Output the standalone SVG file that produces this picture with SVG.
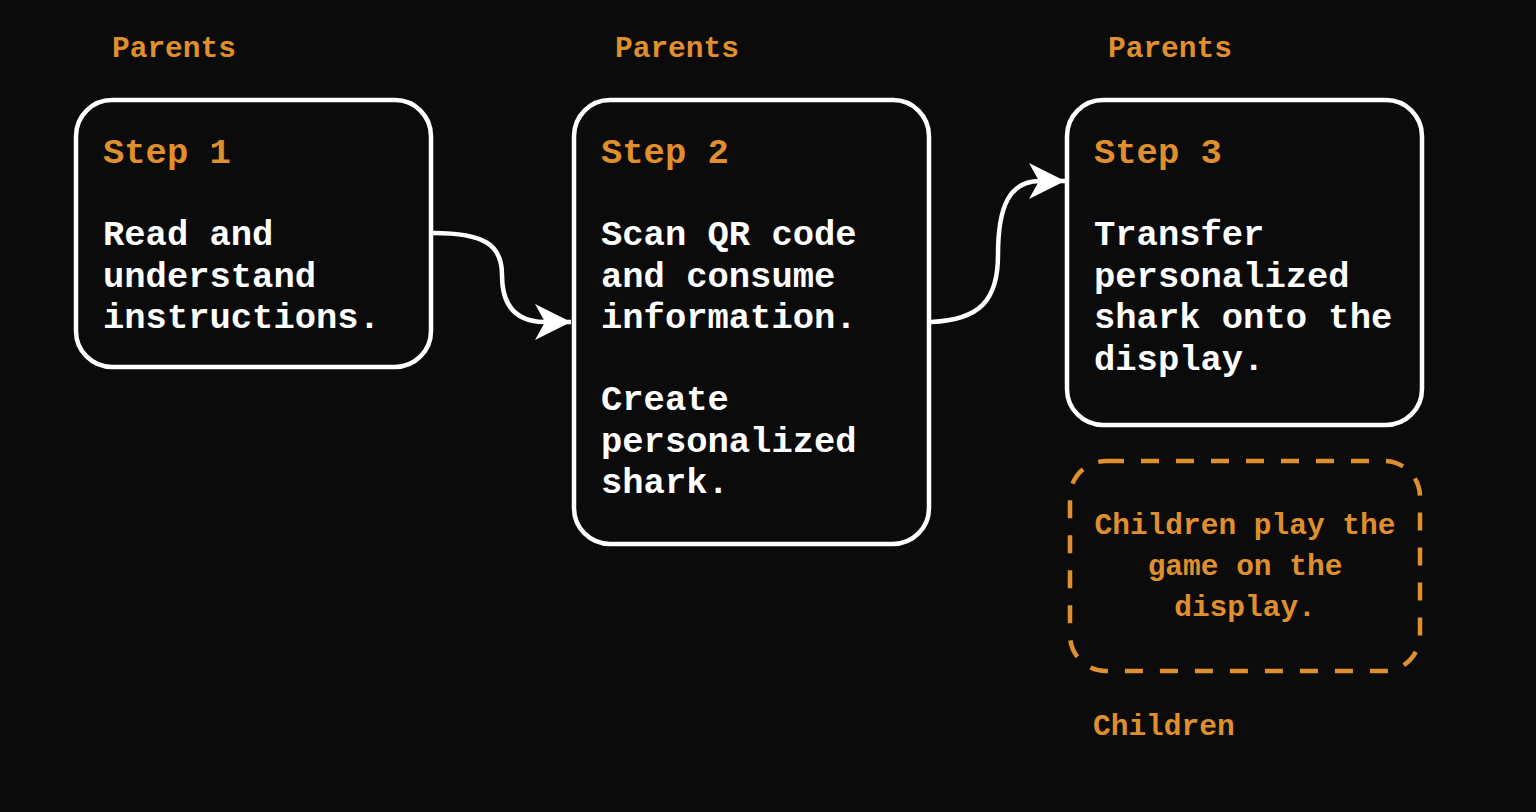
<svg xmlns="http://www.w3.org/2000/svg" width="1536" height="812" viewBox="0 0 1536 812">
<style>
.bg{fill:#0b0b0b}
.box{fill:#0b0b0b;stroke:#ffffff;stroke-width:4.5}
.dbox{fill:none;stroke:#e08f2e;stroke-width:4.5;stroke-dasharray:18 17}
.t{font-family:"Liberation Mono","DejaVu Sans Mono",monospace;font-weight:bold;font-size:35.5px;fill:#ffffff}
.h{font-family:"Liberation Mono","DejaVu Sans Mono",monospace;font-weight:bold;font-size:35.5px;fill:#e08f2e}
.lbl{font-family:"Liberation Mono","DejaVu Sans Mono",monospace;font-weight:bold;font-size:29.5px;fill:#e08f2e}
.conn{fill:none;stroke:#ffffff;stroke-width:4.5}
</style>
<defs>
<marker id="arr" markerUnits="userSpaceOnUse" markerWidth="40" markerHeight="40" viewBox="0 0 40 40" refX="37" refY="20" orient="auto">
<path d="M1,2 L37,20 L1,38 L11,20 Z" fill="#ffffff"/>
</marker>
</defs>
<rect class="bg" x="0" y="0" width="1536" height="812"/>
<g id="label-parents-1"><text class="lbl" x="112" y="57">Parents</text></g>
<g id="label-parents-2"><text class="lbl" x="615" y="57">Parents</text></g>
<g id="label-parents-3"><text class="lbl" x="1108" y="57">Parents</text></g>
<g id="label-children"><text class="lbl" x="1093" y="735">Children</text></g>
<g id="connectors">
<path class="conn" d="M433,233 C485,233 502,245 502,275 C502,305 515,322 545,322 L571,322" marker-end="url(#arr)"/>
<path class="conn" d="M931,322 C980,320 998,300 998,255 C998,205 1010,181 1040,181 L1065,181" marker-end="url(#arr)"/>
</g>
<g id="step1">
<rect class="box" x="76" y="100" width="355" height="267" rx="36"/>
<text class="h" x="103" y="163">Step 1</text>
<text class="t" x="103" y="245">Read and</text>
<text class="t" x="103" y="286.5">understand</text>
<text class="t" x="103" y="328">instructions.</text>
</g>
<g id="step2">
<rect class="box" x="574" y="100" width="355" height="444" rx="36"/>
<text class="h" x="601" y="163">Step 2</text>
<text class="t" x="601" y="245">Scan QR code</text>
<text class="t" x="601" y="286.5">and consume</text>
<text class="t" x="601" y="328">information.</text>
<text class="t" x="601" y="410">Create</text>
<text class="t" x="601" y="451.5">personalized</text>
<text class="t" x="601" y="493">shark.</text>
</g>
<g id="step3">
<rect class="box" x="1067" y="100" width="355" height="325" rx="36"/>
<text class="h" x="1094" y="163">Step 3</text>
<text class="t" x="1094" y="245">Transfer</text>
<text class="t" x="1094" y="286.5">personalized</text>
<text class="t" x="1094" y="328">shark onto the</text>
<text class="t" x="1094" y="369.5">display.</text>
</g>
<g id="children-box">
<rect class="dbox" x="1070" y="461" width="350" height="210" rx="36"/>
<text class="lbl" x="1245" y="534" text-anchor="middle">Children play the</text>
<text class="lbl" x="1245" y="575" text-anchor="middle">game on the</text>
<text class="lbl" x="1245" y="616" text-anchor="middle">display.</text>
</g>
</svg>
